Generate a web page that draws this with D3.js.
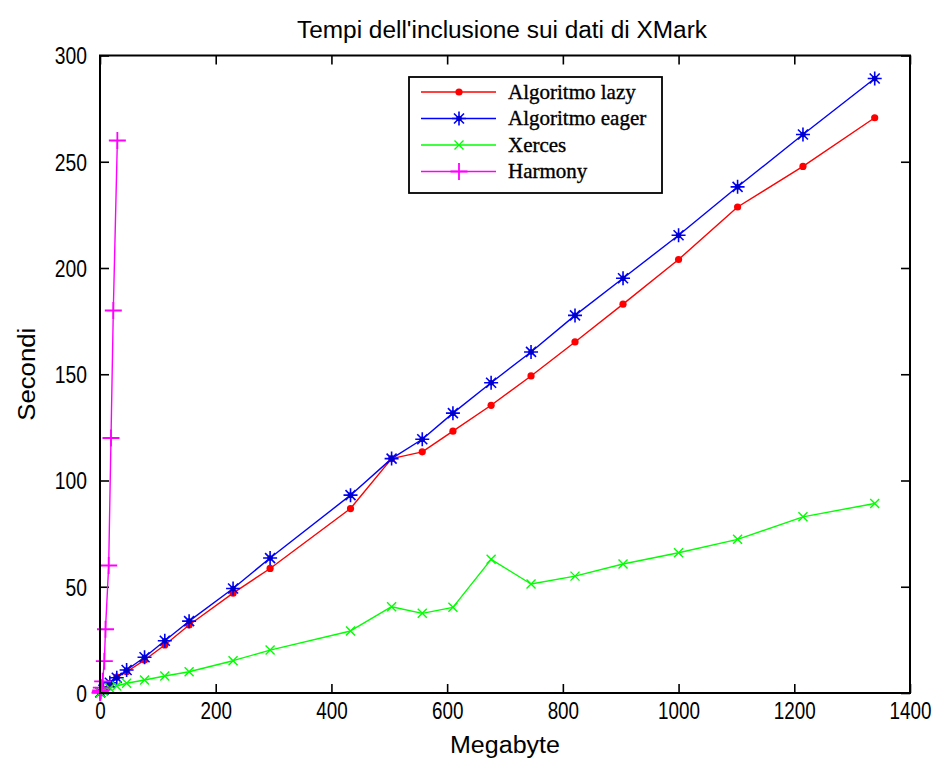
<!DOCTYPE html>
<html>
<head>
<meta charset="utf-8">
<script src="https://cdn.jsdelivr.net/npm/d3@7"></script>
<style>
  html, body { margin: 0; padding: 0; background: #fff; }
  svg { display: block; }
  .sans { font-family: "Liberation Sans", Arial, sans-serif; font-size: 23px; fill: #000; }
  .legend-label { font-family: "Liberation Serif", "Times New Roman", serif; font-size: 21px; fill: #000; stroke: #000; stroke-width: 0.35px; }
</style>
</head>
<body>
<svg id="chart" width="938" height="760"></svg>
<script>
// File sizes (MB) used for the XMark runs
const sizesMB = [0.5, 6, 17, 29, 46, 77, 112, 154, 230, 294, 433, 504, 557, 610, 676, 745, 821, 904, 1000, 1102, 1215, 1339];
// Inclusion times in seconds
const lazyTimes  = [0.2, 1.5, 4.3, 7.5, 10, 15.5, 22.6, 32, 47, 58.6, 86.8, 110.3, 113.5, 123.2, 135.4, 149.2, 165.2, 183, 204, 228.7, 247.8, 270.7];
const eagerTimes = [0.3, 1.6, 4.8, 7.2, 10.8, 16.8, 24.6, 33.8, 49.2, 63.5, 93.1, 110.3, 119.4, 131.7, 146, 160.5, 177.7, 195.2, 215.4, 238.2, 262.8, 289.2];
const xercesTimes = [0.1, 0.8, 2.2, 3.3, 4.6, 6.1, 8, 10, 15.2, 20.2, 29.2, 40.6, 37.5, 40.3, 62.9, 51.3, 55, 60.7, 66, 72.3, 82.9, 89.2];
// Harmony only handles the small documents
const harmonySizesMB = [0.1, 0.6, 1.2, 2.3, 4.6, 7.5, 9.5, 15, 19, 23, 30];
const harmonyTimes   = [0.1, 0.5, 1.2, 2.5, 5.5, 15, 30, 60, 120, 180, 260];

const xTicks = [0, 200, 400, 600, 800, 1000, 1200, 1400];
const yTicks = [0, 50, 100, 150, 200, 250, 300];
const seriesNames = ["Algoritmo lazy", "Algoritmo eager", "Xerces", "Harmony"];
const seriesColors = ["#ff0000", "#0000ff", "#00ff00", "#ff00ff"];
const seriesMarkers = ["dot", "star", "cross", "plus"];

const title = "Tempi dell'inclusione sui dati di XMark";
const xLabel = "Megabyte";
const yLabel = "Secondi";

const svg = d3.select("#chart");
const plot = { left: 100, right: 910, top: 55.5, bottom: 693 };

const x = d3.scaleLinear().domain([0, 1400]).range([plot.left, plot.right]);
const y = d3.scaleLinear().domain([0, 300]).range([plot.bottom, plot.top]);

const series = [
  { xs: sizesMB, ys: lazyTimes },
  { xs: sizesMB, ys: eagerTimes },
  { xs: sizesMB, ys: xercesTimes },
  { xs: harmonySizesMB, ys: harmonyTimes }
].map((s, i) => ({
  name: seriesNames[i],
  color: seriesColors[i],
  marker: seriesMarkers[i],
  points: s.xs.map((v, j) => [v, s.ys[j]])
}));

function fitText(node, width) {
  node.setAttribute("textLength", width);
  node.setAttribute("lengthAdjust", "spacingAndGlyphs");
}

// Marker glyphs drawn around (0,0)
function drawMarker(g, type, color) {
  if (type === "dot") {
    g.append("circle").attr("r", 3.6).attr("fill", color);
  } else if (type === "star") {
    const r = 7, d = 5;
    const p = d3.path();
    p.moveTo(-r, 0); p.lineTo(r, 0);
    p.moveTo(0, -r); p.lineTo(0, r);
    p.moveTo(-d, -d); p.lineTo(d, d);
    p.moveTo(-d, d); p.lineTo(d, -d);
    g.append("path").attr("d", p.toString()).attr("stroke", color).attr("stroke-width", 1.6).attr("fill", "none");
    g.append("circle").attr("r", 2.8).attr("fill", "#0000c8");
  } else if (type === "cross") {
    const d = 4.5;
    const p = d3.path();
    p.moveTo(-d, -d); p.lineTo(d, d);
    p.moveTo(-d, d); p.lineTo(d, -d);
    g.append("path").attr("d", p.toString()).attr("stroke", color).attr("stroke-width", 1.4).attr("fill", "none");
  } else if (type === "plus") {
    const r = 8.5;
    const p = d3.path();
    p.moveTo(-r, 0); p.lineTo(r, 0);
    p.moveTo(0, -r); p.lineTo(0, r);
    g.append("path").attr("d", p.toString()).attr("stroke", color).attr("stroke-width", 1.8).attr("fill", "none");
  }
}

// Axes box with inward ticks on all four sides
const tickLen = 9;
const labelPadX = 10, labelPadY = 13;
const axisG = svg.append("g");

const xAxisBottom = d3.axisBottom(x).tickValues(xTicks).tickSize(-tickLen).tickFormat(d3.format("d")).tickPadding(labelPadX);
const xAxisTop = d3.axisTop(x).tickValues(xTicks).tickSize(-tickLen).tickFormat("");
const yAxisLeft = d3.axisLeft(y).tickValues(yTicks).tickSize(-tickLen).tickFormat(d3.format("d")).tickPadding(labelPadY);
const yAxisRight = d3.axisRight(y).tickValues(yTicks).tickSize(-tickLen).tickFormat("");

function styleAxis(g) {
  g.select(".domain").remove();
  g.selectAll(".tick line").attr("stroke", "#000").attr("stroke-width", 1.6);
  g.selectAll(".tick text").attr("class", "sans").attr("font-family", null).attr("font-size", null);
}

// Narrow digits: squeeze labels horizontally around their anchor point
axisG.append("g").attr("transform", `translate(0,${plot.bottom})`).call(xAxisBottom).call(styleAxis)
  .selectAll(".tick text").attr("transform", "scale(0.82,1)");
axisG.append("g").attr("transform", `translate(0,${plot.top})`).call(xAxisTop).call(styleAxis);
axisG.append("g").attr("transform", `translate(${plot.left},0)`).call(yAxisLeft).call(styleAxis)
  .selectAll(".tick text")
  .attr("dy", "0.36em")
  .attr("x", 0)
  .attr("transform", `translate(${-labelPadY},0) scale(0.84,1)`);
axisG.append("g").attr("transform", `translate(${plot.right},0)`).call(yAxisRight).call(styleAxis);

// Data lines
const line = d3.line().x(d => x(d[0])).y(d => y(d[1]));
const dataG = svg.append("g");
series.forEach(s => {
  dataG.append("path")
    .datum(s.points)
    .attr("d", line)
    .attr("fill", "none")
    .attr("stroke", s.color)
    .attr("stroke-width", 1.4)
    .attr("stroke-linejoin", "round");
});
series.forEach(s => {
  dataG.selectAll(null)
    .data(s.points)
    .join("g")
    .attr("transform", d => `translate(${x(d[0])},${y(d[1])})`)
    .each(function() { drawMarker(d3.select(this), s.marker, s.color); });
});

// Frame
svg.append("rect")
  .attr("x", plot.left).attr("y", plot.top)
  .attr("width", plot.right - plot.left).attr("height", plot.bottom - plot.top)
  .attr("fill", "none").attr("stroke", "#000").attr("stroke-width", 2);

// Legend
const legend = { x: 409, y: 77, w: 253, h: 116, rowY0: 15, rowStep: 26.5 };
const legG = svg.append("g").attr("transform", `translate(${legend.x},${legend.y})`);
legG.append("rect").attr("width", legend.w).attr("height", legend.h)
  .attr("fill", "#fff").attr("stroke", "#000").attr("stroke-width", 1.8);
series.forEach((s, i) => {
  const ry = legend.rowY0 + i * legend.rowStep;
  legG.append("line").attr("x1", 12).attr("x2", 87).attr("y1", ry).attr("y2", ry)
    .attr("stroke", s.color).attr("stroke-width", 1.5);
  const mg = legG.append("g").attr("transform", `translate(50,${ry})`);
  drawMarker(mg, s.marker, s.color);
  legG.append("text").attr("class", "legend-label")
    .attr("x", 99).attr("y", ry).attr("dy", "0.33em")
    .text(s.name);
});

// Titles
svg.append("text").attr("class", "sans")
  .attr("x", 502).attr("y", 38)
  .attr("text-anchor", "middle").text(title)
  .each(function() { fitText(this, 410); });
svg.append("text").attr("class", "sans")
  .attr("x", 505).attr("y", 753)
  .attr("text-anchor", "middle").text(xLabel)
  .each(function() { fitText(this, 110); });
svg.append("text").attr("class", "sans")
  .attr("transform", `translate(35,${(plot.top + plot.bottom) / 2}) rotate(-90)`)
  .attr("text-anchor", "middle").text(yLabel)
  .each(function() { fitText(this, 93); });
</script>
</body>
</html>
